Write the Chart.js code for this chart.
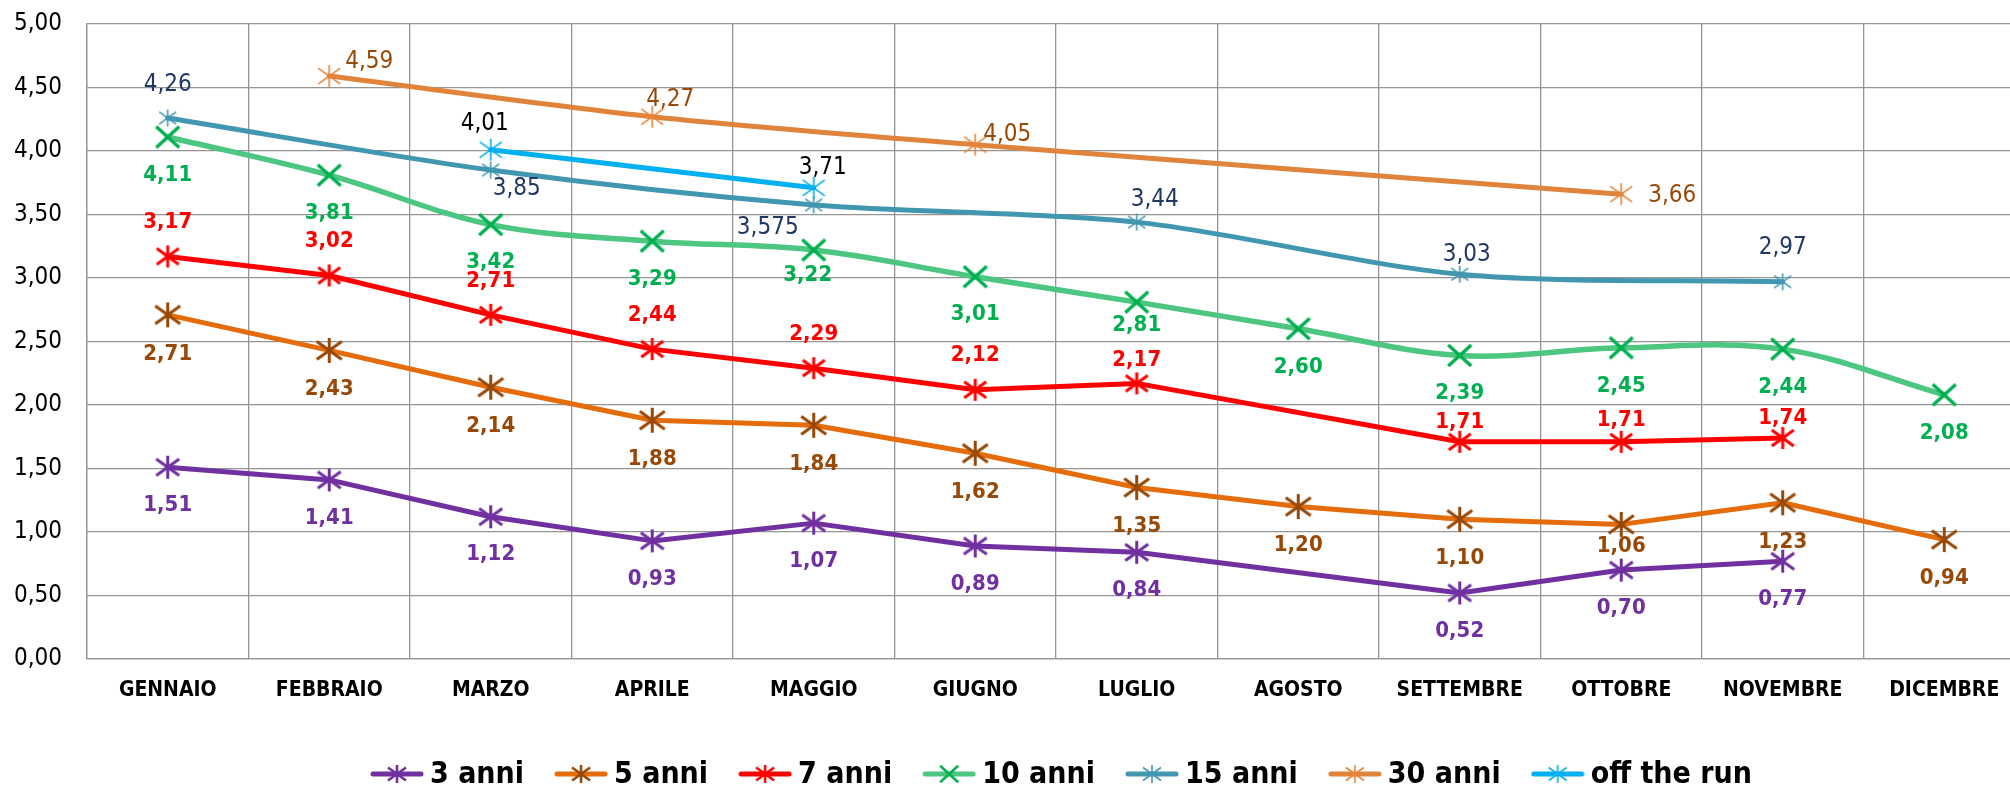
<!DOCTYPE html>
<html><head><meta charset="utf-8">
<script src="https://cdn.jsdelivr.net/npm/chart.js@4.4.0/dist/chart.umd.min.js"></script>
<style>
html,body{margin:0;padding:0;background:#fff;overflow:hidden;}
#wrap{position:relative;width:2123px;height:787px;}
</style></head><body>
<div id="wrap"><canvas id="c"></canvas></div>
<script>
// ---- data ----
const months = ['GENNAIO','FEBBRAIO','MARZO','APRILE','MAGGIO','GIUGNO','LUGLIO','AGOSTO','SETTEMBRE','OTTOBRE','NOVEMBRE','DICEMBRE'];
const anni3  = [1.51,1.41,1.12,0.93,1.07,0.89,0.84,null,0.52,0.70,0.77,null];
const anni5  = [2.71,2.43,2.14,1.88,1.84,1.62,1.35,1.20,1.10,1.06,1.23,0.94];
const anni7  = [3.17,3.02,2.71,2.44,2.29,2.12,2.17,null,1.71,1.71,1.74,null];
const anni10 = [4.11,3.81,3.42,3.29,3.22,3.01,2.81,2.60,2.39,2.45,2.44,2.08];
const anni15 = [4.26,null,3.85,null,3.575,null,3.44,null,3.03,null,2.97,null];
const anni30 = [null,4.59,null,4.27,null,4.05,null,null,null,3.66,null,null];
const offTheRun = [null,null,4.01,null,3.71,null,null,null,null,null,null,null];
const seriesNames = ['3 anni','5 anni','7 anni','10 anni','15 anni','30 anni','off the run'];
const yMin = 0, yMax = 5, yStep = 0.5;

// ---- style ----
const FAM = "'DejaVu Sans Condensed','DejaVu Sans',sans-serif";
const GRID = '#959595';

function marker(kind, color, size, lw) {
  const pad = Math.ceil(lw) + 2;
  const d = Math.ceil(size + pad * 2);
  const c = document.createElement('canvas');
  c.width = d; c.height = d;
  const g = c.getContext('2d');
  g.strokeStyle = color; g.lineWidth = lw;
  const m = d / 2, h = size / 2;
  g.beginPath();
  if (kind === 'star') {
    g.moveTo(m - h, m - 0.72 * h); g.lineTo(m + h, m + 0.72 * h);
    g.moveTo(m + h, m - 0.72 * h); g.lineTo(m - h, m + 0.72 * h);
    g.moveTo(m, m - h); g.lineTo(m, m + h);
  } else {
    g.moveTo(m - h, m - 0.92 * h); g.lineTo(m + h, m + 0.92 * h);
    g.moveTo(m + h, m - 0.92 * h); g.lineTo(m - h, m + 0.92 * h);
  }
  g.stroke();
  return c;
}
function legendSym(kind, lineColor, markColor, size, lw) {
  const w = 54, hgt = 26;
  const c = document.createElement('canvas');
  c.width = w; c.height = hgt;
  const g = c.getContext('2d');
  g.strokeStyle = lineColor; g.lineWidth = 5; g.lineCap = 'round';
  g.beginPath(); g.moveTo(3, hgt / 2); g.lineTo(w - 3, hgt / 2); g.stroke();
  const mk = marker(kind, markColor, size, lw);
  g.drawImage(mk, (w - mk.width) / 2, (hgt - mk.height) / 2);
  return c;
}

const styles = [
  {line:'#7030A0', mark:'#7030A0', kind:'star', size:23, mlw:3, bw:5, tension:0, lab:'#7030A0', font:'bold 22px '+FAM, dx:0, dy:38, over:{}},
  {line:'#E46C0A', mark:'#984807', kind:'star', size:25, mlw:3, bw:5, tension:0, lab:'#984807', font:'bold 22px '+FAM, dx:0, dy:39, over:{9:[0,22]}},
  {line:'#FF0000', mark:'#FF0000', kind:'star', size:22, mlw:3, bw:5, tension:0, lab:'#FF0000', font:'bold 22px '+FAM, dx:0, dy:-34, over:{6:[0,-23],8:[0,-20],9:[0,-22],10:[0,-20]}},
  {line:'#4CC681', mark:'#00B050', kind:'x', size:23, mlw:3.5, bw:5.5, tension:0.35, lab:'#00B050', font:'bold 22px '+FAM, dx:0, dy:38, over:{4:[-6,25],6:[0,23]}},
  {line:'#4197B0', mark:'#4197B0', kind:'star', size:17, mlw:1.6, bw:5, tension:0.3, lab:'#1F3864', font:'24px '+FAM, dx:0, dy:-33, over:{2:[26,19],4:[-46,23],6:[18,-22],8:[7,-19],10:[0,-34]}},
  {line:'#DF843A', mark:'#E8843A', kind:'star', size:22, mlw:1.6, bw:5, tension:0.3, lab:'#984807', font:'24px '+FAM, dx:0, dy:-15, over:{1:[40,-14],3:[18,-17],5:[32,-10],9:[51,2]}},
  {line:'#00B0F0', mark:'#00B0F0', kind:'star', size:22, mlw:1.6, bw:5, tension:0, lab:'#000000', font:'24px '+FAM, dx:0, dy:-26, over:{2:[-6,-26],4:[9,-20]}}
];
const seriesData = [anni3, anni5, anni7, anni10, anni15, anni30, offTheRun];

function fmt(v) {
  let s = v.toFixed(3);
  if (s.endsWith('0')) s = v.toFixed(2);
  return s.replace('.', ',');
}

const datasets = seriesData.map((d, i) => {
  const st = styles[i];
  return {
    label: seriesNames[i],
    data: d,
    borderColor: st.line,
    backgroundColor: st.line,
    borderWidth: st.bw,
    borderJoinStyle: 'round',
    borderCapStyle: 'round',
    tension: st.tension,
    spanGaps: true,
    pointStyle: marker(st.kind, st.mark, st.size, st.mlw),
    pointRadius: 8,
    pointHoverRadius: 8,
    order: seriesData.length - i
  };
});

const labelPlugin = {
  id: 'vals',
  afterDatasetsDraw(chart) {
    const g = chart.ctx;
    g.save();
    g.textAlign = 'center';
    g.textBaseline = 'middle';
    chart.data.datasets.forEach((ds, i) => {
      const st = styles[i];
      const meta = chart.getDatasetMeta(i);
      g.font = st.font;
      g.fillStyle = st.lab;
      ds.data.forEach((v, j) => {
        if (v === null || v === undefined) return;
        const p = meta.data[j];
        const o = st.over[j] || [st.dx, st.dy];
        g.fillText(fmt(v), p.x + o[0], p.y + o[1]);
      });
    });
    g.restore();
  }
};

const legendPlugin = {
  id: 'xlLegend',
  afterDraw(chart) {
    const g = chart.ctx;
    g.save();
    g.font = 'bold 30px ' + FAM;
    g.textBaseline = 'middle';
    g.textAlign = 'left';
    const symW = 54, gap1 = 6, gap2 = 30;
    const syms = styles.map(st => legendSym(st.kind, st.line, st.mark, 18, st.mlw < 2 ? 1.6 : 2.6));
    const widths = seriesNames.map(n => g.measureText(n).width);
    let total = 0;
    widths.forEach((w, i) => { total += symW + gap1 + w + (i < widths.length - 1 ? gap2 : 0); });
    let x = 1061 - total / 2;
    const y = 774;
    seriesNames.forEach((n, i) => {
      g.drawImage(syms[i], x, y - syms[i].height / 2);
      x += symW + gap1;
      g.fillStyle = '#000';
      g.fillText(n, x, y + 1);
      x += widths[i] + gap2;
    });
    g.restore();
  }
};

Chart.defaults.font.family = FAM;
new Chart(document.getElementById('c'), {
  type: 'line',
  data: { labels: months, datasets },
  plugins: [labelPlugin, legendPlugin],
  options: {
    responsive: true,
    maintainAspectRatio: false,
    animation: false,
    events: [],
    layout: { padding: { left: 10, top: 24, right: 98, bottom: 80 } },
    plugins: { legend: { display: false }, tooltip: { enabled: false } },
    scales: {
      x: {
        offset: true,
        grid: { offset: true, color: GRID, lineWidth: 1.3, drawTicks: false },
        border: { color: GRID, width: 1.3 },
        ticks: { font: { size: 21, weight: 'bold', family: FAM }, color: '#000', padding: 19, maxRotation: 0, autoSkip: false },
        afterFit(s) { s.height = 48; }
      },
      y: {
        min: yMin, max: yMax,
        grid: { color: GRID, lineWidth: 1.3, drawTicks: false },
        border: { color: GRID, width: 1.3 },
        ticks: { stepSize: yStep, font: { size: 24, family: FAM }, color: '#000', padding: 25,
          callback: v => Number(v).toFixed(2).replace('.', ',') },
        afterFit(s) { s.width = 77; s.paddingTop = 10; s.paddingBottom = 10; }
      }
    }
  }
});
</script>
</body></html>
